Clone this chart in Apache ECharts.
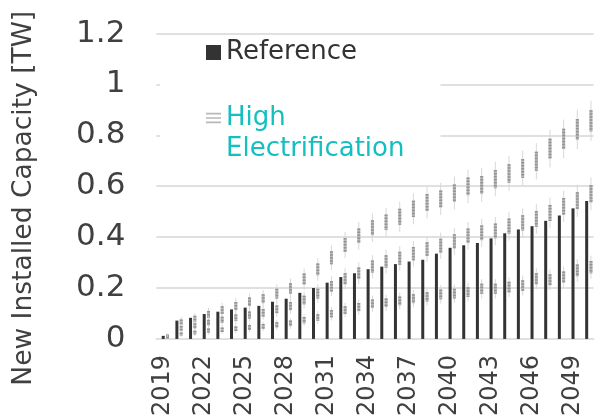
<!DOCTYPE html>
<html>
<head>
<meta charset="utf-8">
<title>New Installed Capacity</title>
<script src="https://cdn.jsdelivr.net/npm/echarts@6/dist/echarts.min.js"></script>
<style>
  html, body { margin: 0; padding: 0; background: #ffffff; }
  #chart { width: 595px; height: 419px; }
</style>
</head>
<body>
<div id="chart"></div>
<script>
// Years on the category axis
const years = ['2019', '2020', '2021', '2022', '2023', '2024', '2025', '2026',
  '2027', '2028', '2029', '2030', '2031', '2032', '2033', '2034',
  '2035', '2036', '2037', '2038', '2039', '2040', '2041', '2042',
  '2043', '2044', '2045', '2046', '2047', '2048', '2049', '2050'];

// Reference scenario, new installed capacity [TW]
const reference = [0.012, 0.072, 0.083, 0.098, 0.107, 0.116, 0.123, 0.130,
  0.146, 0.158, 0.181, 0.200, 0.221, 0.243, 0.258, 0.274,
  0.284, 0.294, 0.304, 0.311, 0.335, 0.358, 0.368, 0.377,
  0.395, 0.415, 0.430, 0.443, 0.464, 0.485, 0.513, 0.542];

// High Electrification scenario: upper, middle and lower estimates [TW]
const highUpper = [0.012, 0.065, 0.078, 0.096, 0.113, 0.129, 0.146, 0.158,
  0.178, 0.199, 0.235, 0.273, 0.319, 0.369, 0.405, 0.437,
  0.458, 0.480, 0.511, 0.536, 0.550, 0.573, 0.599, 0.605,
  0.628, 0.650, 0.670, 0.698, 0.748, 0.786, 0.823, 0.857];
const highMid = [0.008, 0.042, 0.051, 0.064, 0.075, 0.083, 0.094, 0.103,
  0.116, 0.129, 0.152, 0.178, 0.207, 0.236, 0.258, 0.284,
  0.304, 0.317, 0.335, 0.353, 0.366, 0.383, 0.405, 0.417,
  0.424, 0.443, 0.456, 0.472, 0.495, 0.521, 0.543, 0.570];
const highLow = [0.005, 0.019, 0.025, 0.033, 0.036, 0.040, 0.045, 0.049,
  0.055, 0.061, 0.074, 0.084, 0.099, 0.113, 0.125, 0.138,
  0.142, 0.149, 0.158, 0.165, 0.175, 0.178, 0.184, 0.197,
  0.197, 0.204, 0.210, 0.236, 0.232, 0.243, 0.269, 0.282];

// Y axis ticks
const yMin = 0, yMax = 1.2, yStep = 0.2;

const FONT = 'DejaVu Sans';
const TEXT = '#404040';
const GRID = '#e0e0e0';
const TEAL = '#14bfbf';

const highData = years.map(function (y, i) {
  return [i, highUpper[i], highMid[i], highLow[i]];
});

// Each estimate is a short dashed grey segment with faint whiskers,
// drawn just to the right of the Reference bar.
function renderHigh(params, api) {
  const idx = api.value(0);
  const children = [];
  for (let k = 1; k <= 3; k++) {
    const v = api.value(k);
    const h = 0.045 * Math.sqrt(v);
    const p = api.coord([idx, v]);
    const top = api.coord([idx, v + h])[1];
    const bot = api.coord([idx, Math.max(0, v - h)])[1];
    const wTop = api.coord([idx, v + 1.9 * h])[1];
    const wBot = api.coord([idx, Math.max(0, v - 1.9 * h)])[1];
    const x = p[0] + 4.3;
    children.push({
      type: 'line',
      shape: { x1: x, y1: wTop, x2: x, y2: wBot },
      style: { stroke: '#d8d8d8', lineWidth: 1 }
    });
    children.push({
      type: 'rect',
      shape: { x: x - 1.5, y: top, width: 3, height: bot - top },
      style: { fill: '#b8b8b8' }
    });
    children.push({
      type: 'line',
      shape: { x1: x, y1: top, x2: x, y2: bot },
      style: { stroke: '#959595', lineWidth: 3, lineDash: [1.5, 1.5] }
    });
  }
  return { type: 'group', children: children };
}

const chart = echarts.init(document.getElementById('chart'), null, { renderer: 'canvas' });

chart.setOption({
  animation: false,
  backgroundColor: '#ffffff',
  textStyle: { fontFamily: FONT },
  grid: { left: 156.4, right: 1.5, top: 33.5, bottom: 76.5, containLabel: false },
  legend: {
    orient: 'vertical',
    left: 160,
    top: 35,
    padding: [2, 36, 10, 46],
    backgroundColor: '#ffffff',
    itemWidth: 15,
    itemHeight: 15,
    itemGap: 3.5,
    textStyle: { fontFamily: FONT, fontSize: 26, lineHeight: 31, color: '#333333' },
    data: [
      { name: 'Reference', icon: 'rect', itemStyle: { color: '#333333' } },
      {
        name: 'High Electrification',
        icon: 'path://M0,0h14v1.6h-14z M0,4h14v1.6h-14z M0,8h14v1.6h-14z',
        itemStyle: { color: '#b8b8b8' },
        textStyle: { color: TEAL }
      }
    ],
    // the blank first line keeps the icon level with "High"
    formatter: function (name) {
      return name === 'High Electrification' ? ' \nHigh\nElectrification' : name;
    }
  },
  xAxis: {
    type: 'category',
    data: years,
    boundaryGap: true,
    axisLine: { show: true, lineStyle: { color: GRID, width: 2 } },
    axisTick: { show: false },
    axisLabel: {
      interval: 2,
      rotate: 90,
      margin: 16,
      fontFamily: FONT,
      fontSize: 24,
      color: TEXT,
      padding: [3.4, 0, 0, 0]
    },
    splitLine: { show: false }
  },
  yAxis: {
    type: 'value',
    min: yMin,
    max: yMax,
    interval: yStep,
    name: 'New Installed Capacity [TW]',
    nameLocation: 'middle',
    nameGap: 119,
    nameTextStyle: { fontFamily: FONT, fontSize: 26.5, color: TEXT, padding: [0, 24, 0, 0] },
    axisLine: { show: false },
    axisTick: { show: false },
    axisLabel: {
      margin: 31,
      fontFamily: FONT,
      fontSize: 31,
      color: TEXT,
      formatter: function (v) { return String(Math.round(v * 10) / 10); }
    },
    splitLine: { show: true, lineStyle: { color: GRID, width: 2 } }
  },
  series: [
    {
      name: 'Reference',
      type: 'bar',
      data: reference,
      barWidth: 3,
      itemStyle: { color: '#333333' },
      z: 2
    },
    {
      name: 'High Electrification',
      type: 'custom',
      data: highData,
      encode: { x: 0, y: [1, 2, 3] },
      itemStyle: { color: '#b8b8b8' },
      renderItem: renderHigh,
      z: 3
    }
  ]
});
</script>
</body>
</html>
